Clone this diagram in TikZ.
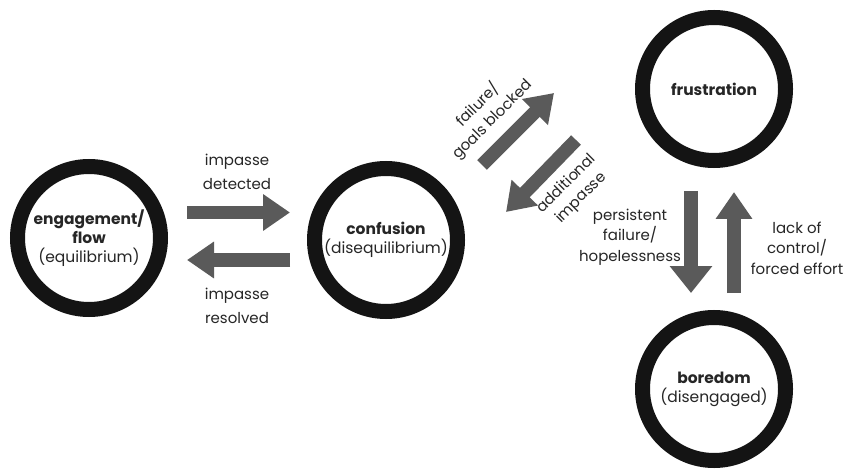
\documentclass[tikz,border=0pt]{standalone}
\usepackage{fontspec}
\setmainfont{Poppins}
\usetikzlibrary{arrows.meta}
\definecolor{ringcol}{HTML}{141414}
\definecolor{arrcol}{HTML}{5A5A5A}
\definecolor{txtcol}{HTML}{262626}
\tikzset{
  state/.style={circle, draw=ringcol, line width=15pt, minimum size=143pt, inner sep=0pt, align=center, text=txtcol, font=\fontsize{15.5}{19}\selectfont},
  blk/.style={draw=arrcol, line width=13.5pt, -{Triangle[length=27pt, width=35pt]}, arrcol},
  blkwide/.style={blk, -{Triangle[length=27pt, width=41pt]}},
  lbl/.style={align=center, text=txtcol, font=\fontsize{15}{24.5}\selectfont, inner sep=0pt},
  lbls/.style={lbl, font=\fontsize{15}{20.5}\selectfont},
}
\begin{document}
\begin{tikzpicture}[x=1pt,y=-1pt]
\useasboundingbox[fill=white] (0,0) rectangle (845,470);
\node[state] (eng) at (89,238) {\textbf{engagement/}\\\textbf{flow}\\(equilibrium)};
\node[state] (conf) at (386,240) {\textbf{confusion}\\(disequilibrium)};
\node[state] (frus) at (714,89) {\textbf{frustration}};
\node[state] (bore) at (714,389) {\textbf{boredom}\\(disengaged)};
% horizontal arrows
\coordinate (a1s) at (187,212.5);
\coordinate (a1e) at (290,212.5);
\coordinate (a2s) at (290,260);
\coordinate (a2e) at (187,260);
\draw[blk] (a1s) -- (a1e);
\draw[blk] (a2s) -- (a2e);
\node[lbl] (l1) at (237,172) {impasse\\detected};
\node[lbl] (l2) at (237,306) {impasse\\resolved};
% diagonal arrows
\coordinate (a3s) at (482,165);
\coordinate (a3e) at (554,93);
\coordinate (a4s) at (576,140);
\coordinate (a4e) at (506,212);
\draw[blk] (a3s) -- (a3e);
\draw[blk] (a4s) -- (a4e);
\node[lbls, rotate=45] (l3) at (485,112) {failure/\\goals blocked};
\node[lbls, rotate=45] (l4) at (574,191) {additional\\impasse};
% vertical arrows
\coordinate (a5s) at (691,191);
\coordinate (a5e) at (691,293);
\coordinate (a6s) at (734,293);
\coordinate (a6e) at (734,192);
\draw[blkwide] (a5s) -- (a5e);
\draw[blk] (a6s) -- (a6e);
\node[lbls] (l5) at (630,237) {persistent\\failure/\\hopelessness};
\node[lbls] (l6) at (797,248) {lack of\\control/\\forced effort};
\end{tikzpicture}
\end{document}
